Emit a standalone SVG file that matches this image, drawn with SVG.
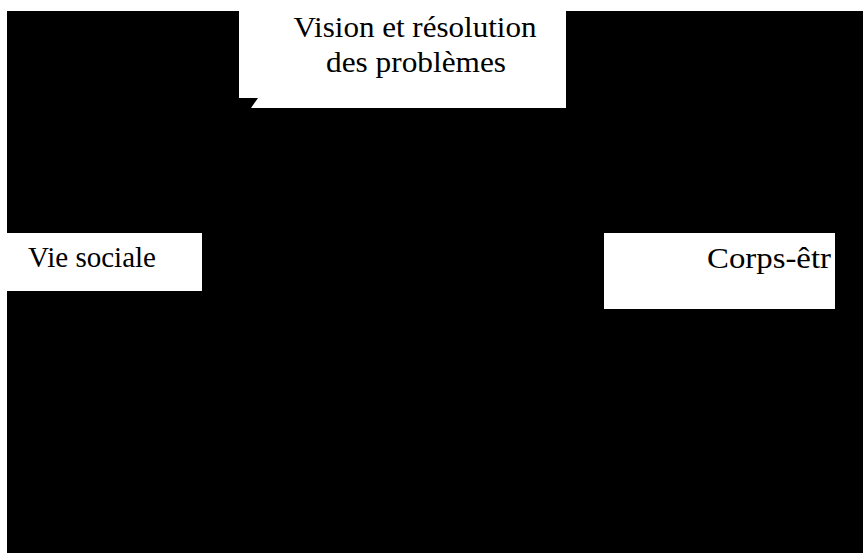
<svg xmlns="http://www.w3.org/2000/svg" width="863" height="553" viewBox="0 0 863 553">
<style>
.box{fill:#fff;stroke:none}
.lbl{font-family:"Liberation Serif","Times New Roman",serif;font-size:30px;fill:#000}
</style>
<rect x="0" y="0" width="863" height="553" fill="#fff"/>
<rect x="7" y="11" width="856" height="542" fill="#000"/>
<g id="node-vision">
<rect class="box" x="239" y="0" width="327" height="108"/>
<text class="lbl" x="415" y="37" text-anchor="middle" textLength="243" lengthAdjust="spacingAndGlyphs">Vision et résolution</text>
<text class="lbl" x="416" y="72" text-anchor="middle" textLength="180" lengthAdjust="spacingAndGlyphs">des problèmes</text>
</g>
<g id="node-vie-sociale">
<rect class="box" x="7" y="233" width="195" height="58"/>
<text class="lbl" x="28" y="267" textLength="128" lengthAdjust="spacingAndGlyphs">Vie sociale</text>
</g>
<g id="node-corps">
<rect class="box" x="604" y="233" width="231" height="76"/>
<text class="lbl" x="707" y="268" textLength="124" lengthAdjust="spacingAndGlyphs">Corps-êtr</text>
</g>
<g id="connectors">
<polygon points="239,98 258,98 251,108 239,108" fill="#000"/>
</g>
</svg>
